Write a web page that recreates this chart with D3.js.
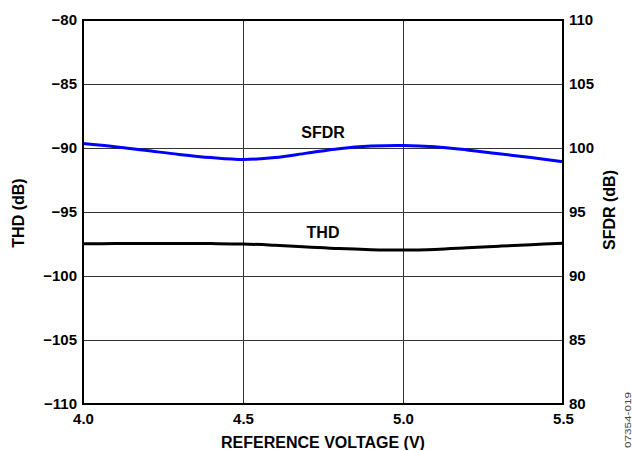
<!DOCTYPE html>
<html>
<head>
<meta charset="utf-8">
<script src="https://cdn.jsdelivr.net/npm/d3@7/dist/d3.min.js"></script>
<style>
  html, body { margin: 0; padding: 0; background: #fff; }
  svg { display: block; }
  text { font-family: "Liberation Sans", Arial, sans-serif; }
</style>
</head>
<body>
<svg id="chart" width="633" height="450"></svg>
<script>
// Reference voltage sweep (V)
const voltage = [4.0, 4.1, 4.2, 4.3, 4.4, 4.5, 4.6, 4.7, 4.8, 4.9, 5.0, 5.1, 5.2, 5.3, 5.4, 5.5];
// Total harmonic distortion (dB, left axis)
const thd = [-97.48, -97.47, -97.46, -97.46, -97.47, -97.50, -97.60, -97.73, -97.86, -97.94, -97.97, -97.92, -97.80, -97.67, -97.55, -97.45];
// Spurious-free dynamic range (dB, right axis)
const sfdr = [100.35, 100.10, 99.80, 99.50, 99.25, 99.10, 99.25, 99.60, 99.95, 100.15, 100.20, 100.10, 99.85, 99.55, 99.25, 98.93];

const xTicks = [4.0, 4.5, 5.0, 5.5];
const thdTicks = [-110, -105, -100, -95, -90, -85, -80];
const sfdrTicks = [80, 85, 90, 95, 100, 105, 110];

const margin = { left: 83, top: 20, width: 480, height: 384 };
const svg = d3.select("#chart");
const g = svg.append("g").attr("transform", `translate(${margin.left},${margin.top})`);

const x = d3.scaleLinear().domain([4.0, 5.5]).range([0, margin.width]);
const yL = d3.scaleLinear().domain([-110, -80]).range([margin.height, 0]);
const yR = d3.scaleLinear().domain([80, 110]).range([margin.height, 0]);

const minus = v => (v < 0 ? "\u2212" + Math.abs(v) : String(v));
const tickSize = 15;
const titleSize = 16;

// Grid lines
g.append("g").selectAll("line.h").data(thdTicks.slice(1, -1)).join("line")
  .attr("x1", 0).attr("x2", margin.width)
  .attr("y1", d => Math.round(yL(d)) + 0.5).attr("y2", d => Math.round(yL(d)) + 0.5)
  .attr("stroke", "#333").attr("stroke-width", 1);
g.append("g").selectAll("line.v").data(xTicks.slice(1, -1)).join("line")
  .attr("y1", 0).attr("y2", margin.height)
  .attr("x1", d => Math.round(x(d)) + 0.5).attr("x2", d => Math.round(x(d)) + 0.5)
  .attr("stroke", "#333").attr("stroke-width", 1);

// Axes (labels only; frame drawn separately)
const leftAxis = d3.axisLeft(yL).tickValues(thdTicks).tickSize(0).tickPadding(6).tickFormat(minus);
const rightAxis = d3.axisRight(yR).tickValues(sfdrTicks).tickSize(0).tickPadding(6).tickFormat(d => String(d));
const bottomAxis = d3.axisBottom(x).tickValues(xTicks).tickSize(0).tickPadding(9).tickFormat(d3.format(".1f"));

function styleAxis(sel) {
  sel.select(".domain").remove();
  sel.selectAll("text")
    .attr("font-family", "'Liberation Sans', Arial, sans-serif")
    .attr("font-size", tickSize).attr("font-weight", "bold").attr("fill", "#000");
}
g.append("g").call(leftAxis).call(styleAxis);
g.append("g").attr("transform", `translate(${margin.width},0)`).call(rightAxis).call(styleAxis);
g.append("g").attr("transform", `translate(0,${margin.height})`).call(bottomAxis).call(styleAxis);

// Curves
const lineL = d3.line().x((d, i) => x(voltage[i])).y(d => yL(d)).curve(d3.curveCatmullRom.alpha(0.5));
const lineR = d3.line().x((d, i) => x(voltage[i])).y(d => yR(d)).curve(d3.curveCatmullRom.alpha(0.5));

g.append("path").datum(sfdr).attr("d", lineR)
  .attr("fill", "none").attr("stroke", "#0000ff").attr("stroke-width", 3);
g.append("path").datum(thd).attr("d", lineL)
  .attr("fill", "none").attr("stroke", "#000").attr("stroke-width", 3);

// Frame
g.append("rect").attr("x", 0).attr("y", 0).attr("width", margin.width).attr("height", margin.height)
  .attr("fill", "none").attr("stroke", "#000").attr("stroke-width", 2);

// Series labels
g.append("text").attr("x", x(4.75)).attr("y", yR(101.25))
  .attr("text-anchor", "middle").attr("dominant-baseline", "central")
  .attr("font-size", titleSize).attr("font-weight", "bold").text("SFDR");
g.append("text").attr("x", x(4.75)).attr("y", yL(-96.6))
  .attr("text-anchor", "middle").attr("dominant-baseline", "central")
  .attr("font-size", titleSize).attr("font-weight", "bold").text("THD");

// Axis titles
svg.append("text").attr("x", margin.left + margin.width / 2).attr("y", 448)
  .attr("text-anchor", "middle").attr("font-size", titleSize).attr("font-weight", "bold")
  .text("REFERENCE VOLTAGE (V)");
svg.append("text").attr("transform", "translate(24,213) rotate(-90)")
  .attr("text-anchor", "middle").attr("font-size", titleSize).attr("font-weight", "bold")
  .text("THD (dB)");
svg.append("text").attr("transform", "translate(615,210) rotate(-90)")
  .attr("text-anchor", "middle").attr("font-size", titleSize).attr("font-weight", "bold")
  .text("SFDR (dB)");

// Figure code
svg.append("text").attr("transform", "translate(631,448) rotate(-90)")
  .attr("text-anchor", "start").attr("font-size", 8.5).attr("fill", "#444")
  .attr("textLength", 56).attr("lengthAdjust", "spacingAndGlyphs")
  .text("07354-019");
</script>
</body>
</html>
